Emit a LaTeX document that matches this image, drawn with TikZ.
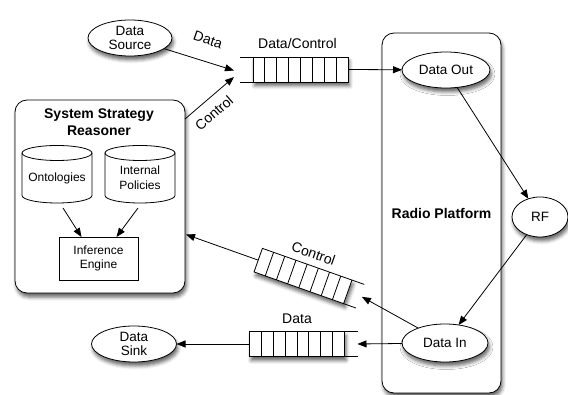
\documentclass[tikz,border=0pt]{standalone}
\usepackage{fontspec}
\setmainfont{Liberation Sans}
\usetikzlibrary{arrows.meta,calc,shapes.geometric,shadows.blur}
\newcommand\qcells[1]{\foreach \i in {1,...,7}{\draw[qline] ($(#1.north west)!\i/8!(#1.north east)$) -- ($(#1.south west)!\i/8!(#1.south east)$);}}
\newcommand\qopen[3]{\draw[qline] (#1.north #2) -- ($(#1.north #2)!-13pt!(#1.north #3)$);\draw[qline] (#1.south #2) -- ($(#1.south #2)!-13pt!(#1.south #3)$);}
\newcommand\cylout[1]{\draw[base] (#1.north west) -- ([yshift=7.5pt]#1.south west) arc[start angle=180,end angle=360,x radius=35pt,y radius=7.5pt] -- (#1.north east);
\draw[base] (#1.north) ellipse[x radius=35pt,y radius=7.5pt];}
\begin{document}
\begin{tikzpicture}[x=1pt,y=1pt,
  every node/.style={inner sep=0pt,outer sep=0pt},
  base/.style={draw=black,line width=0.8pt},
  shad/.style={blur shadow={shadow xshift=1.5pt,shadow yshift=-4pt,shadow blur radius=3.5pt,shadow opacity=60}},
  box/.style={base,fill=white,shad,rounded corners=12pt},
  oval/.style={base,ellipse,fill=white,shad,font=\fontsize{13.5}{14.5}\selectfont,align=center},
  queue/.style={base,fill=white,shad,minimum width=95pt,minimum height=25pt},
  qline/.style={line width=0.8pt},
  lbl/.style={font=\fontsize{14}{15}\selectfont},
  title/.style={font=\bfseries\fontsize{14}{17}\selectfont,align=center},
  intext/.style={font=\fontsize{12}{15}\selectfont,align=center},
  arr/.style={line width=0.8pt,-{Triangle[length=9pt,width=7pt]}}
]
\useasboundingbox (0,0) rectangle (568,-395);
% System Strategy Reasoner
\node[box,minimum width=170pt,minimum height=193pt] (ssr) at (100,-196.5) {};
\node[title] (ssrt) at (99,-122.5) {System Strategy\\Reasoner};
\node[intext,minimum width=70pt,minimum height=50pt] (onto) at (57,-178) {Ontologies};
\node[intext,minimum width=70pt,minimum height=50pt] (pol) at (140,-178) {Internal\\Policies};
\cylout{onto}
\cylout{pol}
\node[intext,base,font=\fontsize{12}{14}\selectfont,minimum width=79pt,minimum height=43pt] (ie) at (98.5,-258.5) {Inference\\Engine};
\draw[arr] ([shift={(6pt,-5pt)}]onto.south) -- ([xshift=-17pt]ie.north);
\draw[arr] ([shift={(-2pt,-5pt)}]pol.south) -- ([xshift=18pt]ie.north);
% Radio platform
\node[box,minimum width=119pt,minimum height=360pt,font=\bfseries\fontsize{14}{16}\selectfont] (radio) at (441.5,-213) {Radio Platform};
% ellipses
\node[oval,minimum width=84pt,minimum height=36pt] (ds) at (130,-38) {Data\\Source};
\node[oval,minimum width=88pt,minimum height=36pt] (dout) at (446,-70) {Data Out};
\node[oval,minimum width=56pt,minimum height=40pt] (rf) at (540,-217) {RF};
\node[oval,minimum width=86pt,minimum height=38pt] (di) at (445,-343) {Data In};
\node[oval,minimum width=85pt,minimum height=36pt] (dsink) at (134,-344) {Data\\Sink};
% queues
\node[queue] (dcq) at (300.5,-69.5) {};
\qcells{dcq}
\qopen{dcq}{west}{east}
\node[lbl] (dcl) at (297.5,-43) {Data/Control};
\node[queue,rotate=-19.5] (cq) at (303,-276) {};
\qcells{cq}
\qopen{cq}{east}{west}
\node[lbl,rotate=-19.5] (cql) at (313.5,-253.5) {Control};
\node[queue] (dq) at (297,-344) {};
\qcells{dq}
\qopen{dq}{east}{west}
\node[lbl] (dql) at (297,-319) {Data};
% coordinates
\coordinate (dcin1) at ($(dcq.west)+(-19pt,-1pt)$);
\coordinate (dcin2) at ($(dcq.west)+(-19pt,-7.5pt)$);
\coordinate (ssrout) at ($(ssr.north east)+(0,-19pt)$);
\coordinate (cqin) at ($(cq.east)!-15pt!(cq.west)$);
\coordinate (ssrin) at ($(ssr.east)+(1pt,-38pt)$);
\coordinate (dqin) at ($(dq.east)+(13pt,0)$);
% connectors
\draw[arr] (ds) -- (dcin1);
\node[lbl,rotate=-19] (ldata) at (208,-40) {Data};
\draw[arr] (ssrout) -- (dcin2);
\node[lbl,rotate=41] (lctrl) at (214,-113) {Control};
\draw[arr] (dcq.east) -- (dout);
\draw[arr] (dout) -- (rf);
\draw[arr] (rf) -- (di);
\draw[arr] (di) -- (cqin);
\draw[arr] (cq.west) -- (ssrin);
\draw[arr] (di) -- (dqin);
\draw[arr] (dq.west) -- (dsink);
\end{tikzpicture}
\end{document}
